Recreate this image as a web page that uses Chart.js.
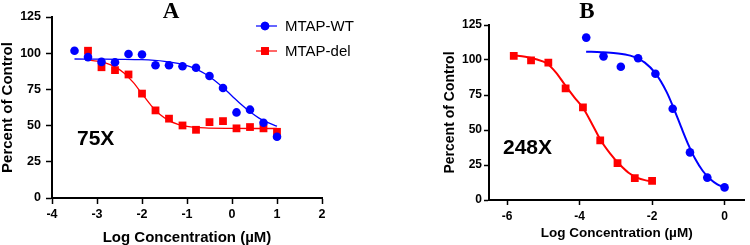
<!DOCTYPE html>
<html>
<head>
<meta charset="utf-8">
<script src="https://cdn.jsdelivr.net/npm/chart.js@4.4.0/dist/chart.umd.min.js"></script>
<style>
  body { margin: 0; background: #fff; }
  #wrap { position: relative; width: 750px; height: 245px; }
  canvas { position: absolute; top: 0; }
</style>
</head>
<body>
<div id="wrap">
  <canvas id="chartA" width="370" height="245" style="left:0"></canvas>
  <canvas id="chartB" width="380" height="245" style="left:370px"></canvas>
</div>
<script>
// ---- panel A (75X) ----
const xWtA = [-3.5, -3.2, -2.9, -2.6, -2.3, -2.0, -1.7, -1.4, -1.1, -0.8, -0.5, -0.2, 0.1, 0.4, 0.7, 1.0];
const wtA = [101.7, 97.3, 94.0, 93.8, 99.4, 99.1, 91.7, 91.7, 91.0, 89.9, 84.3, 76.0, 59.1, 61.0, 52.0, 42.3];
const xDelA = [-3.2, -2.9, -2.6, -2.3, -2.0, -1.7, -1.4, -1.1, -0.8, -0.5, -0.2, 0.1, 0.4, 0.7, 1.0];
const delA = [101.7, 90.3, 88.3, 85.3, 72.1, 60.5, 54.8, 50.1, 47.1, 52.4, 53.1, 48.1, 49.0, 48.1, 45.7];
// fitted curves
const xFitWtA = [-3.5, -3.0, -2.5, -2.0, -1.5, -1.2, -1.0, -0.8, -0.6, -0.4, -0.2, 0.0, 0.2, 0.4, 0.6, 0.8, 1.0];
const fitWtA = [96.0, 95.9, 95.8, 95.5, 94.4, 93.0, 91.4, 89.0, 85.8, 81.5, 76.3, 70.5, 64.7, 59.5, 55.2, 52.0, 49.6];
const xFitDelA = [-3.2, -3.0, -2.8, -2.6, -2.4, -2.2, -2.0, -1.8, -1.6, -1.4, -1.2, -1.0, -0.6, 0.0, 0.5, 1.0];
const fitDelA = [95.3, 94.5, 93.2, 90.6, 86.4, 80.0, 72.0, 64.0, 57.6, 53.4, 50.9, 49.5, 48.4, 48.1, 48.0, 48.0];
const xTicksA = [-4, -3, -2, -1, 0, 1, 2];

// ---- panel B (248X) ----
const xWtB = [-3.817, -3.34, -2.863, -2.386, -1.908, -1.431, -0.954, -0.477, 0];
const wtB = [116.0, 102.6, 95.2, 101.2, 90.2, 65.2, 34.0, 16.0, 9.0];
const xDelB = [-5.817, -5.34, -4.863, -4.386, -3.908, -3.431, -2.954, -2.477, -2.0];
const delB = [102.9, 99.8, 98.1, 79.8, 66.2, 42.6, 26.4, 15.7, 13.6];
const xFitWtB = [-3.82, -3.4, -3.0, -2.6, -2.2, -1.9, -1.6, -1.4, -1.2, -1.0, -0.8, -0.6, -0.4, -0.2, 0];
const fitWtB = [105.9, 105.6, 104.9, 103.1, 98.1, 90.2, 77.2, 65.3, 52.2, 39.6, 28.9, 20.7, 15.0, 11.2, 8.8];
const xFitDelB = [-5.82, -5.5, -5.2, -4.9, -4.65, -4.4, -4.15, -3.9, -3.65, -3.4, -3.15, -2.9, -2.65, -2.4, -2.2, -2.0];
const fitDelB = [103.3, 102.3, 100.5, 97.5, 91.0, 82.0, 73.5, 65.5, 54.0, 42.0, 33.0, 25.5, 19.5, 15.8, 14.2, 13.3];
const xTicksB = [-6, -4, -2, 0];

const yTicks = [0, 25, 50, 75, 100, 125];
const seriesNames = ['MTAP-WT', 'MTAP-del'];

const BLUE = '#0000ff';
const RED = '#ff0000';

const pts = (xs, ys) => xs.map((x, i) => ({ x: x, y: ys[i] }));

// letters, tags and the legend drawn on top of each panel
const panelText = {
  id: 'panelText',
  afterDraw(chart, args, o) {
    const ctx = chart.ctx;
    ctx.save();
    ctx.fillStyle = '#000';
    ctx.textBaseline = 'middle';
    ctx.textAlign = 'center';
    ctx.font = 'bold 23px "Liberation Serif"';
    ctx.fillText(o.letter, o.letterX, o.letterY);
    ctx.textAlign = 'left';
    ctx.font = 'bold 21px "Liberation Sans"';
    ctx.fillText(o.tag, o.tagX, o.tagY);
    if (o.legend) {
      const rows = [
        { name: seriesNames[0], color: BLUE, style: 'circle', y: 26 },
        { name: seriesNames[1], color: RED, style: 'rect', y: 51 }
      ];
      rows.forEach(r => {
        ctx.strokeStyle = r.color;
        ctx.lineWidth = 1.2;
        ctx.beginPath();
        ctx.moveTo(256, r.y);
        ctx.lineTo(277, r.y);
        ctx.stroke();
        ctx.fillStyle = r.color;
        Chart.helpers.drawPoint(ctx, { pointStyle: r.style, radius: r.style === 'rect' ? 5.5 : 4.3, rotation: 0, borderWidth: 0 }, 265, r.y);
        ctx.fill();
        ctx.fillStyle = '#000';
        ctx.font = '15px "Liberation Sans"';
        ctx.fillText(r.name, 285, r.y + 1);
      });
    }
    ctx.restore();
  }
};

function makeChart(id, d) {
  return new Chart(document.getElementById(id), {
    type: 'scatter',
    data: {
      datasets: [
        { label: seriesNames[0], data: pts(d.xWt, d.wt), pointStyle: 'circle', pointRadius: d.circle, backgroundColor: BLUE, borderWidth: 0, showLine: false, order: 0 },
        { label: seriesNames[1], data: pts(d.xDel, d.del), pointStyle: 'rect', pointRadius: d.square, backgroundColor: RED, borderWidth: 0, showLine: false, order: 0 },
        { label: 'fit WT', data: pts(d.xFitWt, d.fitWt), showLine: true, pointRadius: 0, borderColor: BLUE, borderWidth: d.lw, cubicInterpolationMode: 'monotone', order: 1 },
        { label: 'fit del', data: pts(d.xFitDel, d.fitDel), showLine: true, pointRadius: 0, borderColor: RED, borderWidth: d.lw, cubicInterpolationMode: 'monotone', order: 1 }
      ]
    },
    options: {
      responsive: false,
      animation: false,
      layout: { padding: d.pad },
      plugins: {
        legend: { display: false },
        tooltip: { enabled: false },
        panelText: d.text
      },
      scales: {
        x: {
          type: 'linear',
          min: d.xMin,
          max: d.xMax,
          afterBuildTicks: s => { s.ticks = d.xTicks.map(v => ({ value: v })); },
          afterFit: s => { s.height = d.xH; },
          border: { display: true, color: '#000', width: 2 },
          grid: { drawOnChartArea: false, drawTicks: true, tickLength: d.tl, color: '#000', tickWidth: 1.5 },
          ticks: { color: '#000', padding: d.xPad, font: { family: 'Liberation Sans', weight: 'bold', size: d.tickSize } },
          title: { display: true, text: 'Log Concentration (µM)', color: '#000', padding: 0, font: { family: 'Liberation Sans', weight: 'bold', size: d.xTitleSize, lineHeight: 1 } }
        },
        y: {
          min: 0,
          max: 125,
          afterBuildTicks: s => { s.ticks = yTicks.map(v => ({ value: v })); },
          afterFit: s => { s.width = d.yW; },
          border: { display: true, color: '#000', width: 2 },
          grid: { drawOnChartArea: false, drawTicks: true, tickLength: d.tl, color: '#000', tickWidth: 1.5 },
          ticks: { color: '#000', padding: d.yPad, font: { family: 'Liberation Sans', weight: 'bold', size: d.tickSize } },
          title: { display: true, text: 'Percent of Control', color: '#000', padding: 0, font: { family: 'Liberation Sans', weight: 'bold', size: d.yTitleSize, lineHeight: 1 } }
        }
      }
    },
    plugins: [panelText]
  });
}

makeChart('chartA', {
  xWt: xWtA, wt: wtA, xDel: xDelA, del: delA,
  xFitWt: xFitWtA, fitWt: fitWtA, xFitDel: xFitDelA, fitDel: fitDelA,
  xTicks: xTicksA, xMin: -4, xMax: 2,
  circle: 4.3, square: 5.5, lw: 1.3,
  pad: { left: 0, top: 17, right: 48, bottom: 0 },
  xH: 47, yW: 52, tl: 6, xPad: 3, yPad: 5,
  tickSize: 12.5, xTitleSize: 15, yTitleSize: 15,
  text: { letter: 'A', letterX: 171, letterY: 12, tag: '75X', tagX: 77, tagY: 139, legend: true }
});

makeChart('chartB', {
  xWt: xWtB, wt: wtB, xDel: xDelB, del: delB,
  xFitWt: xFitWtB, fitWt: fitWtB, xFitDel: xFitDelB, fitDel: fitDelB,
  xTicks: xTicksB, xMin: -6.5, xMax: 0.55,
  circle: 4.3, square: 5.5, lw: 2,
  pad: { left: 73, top: 25, right: 0, bottom: 5 },
  xH: 40, yW: 46, tl: 5, xPad: 4, yPad: 2,
  tickSize: 12, xTitleSize: 13.5, yTitleSize: 14,
  text: { letter: 'B', letterX: 217, letterY: 12, tag: '248X', tagX: 133, tagY: 148, legend: false }
});
</script>
</body>
</html>
